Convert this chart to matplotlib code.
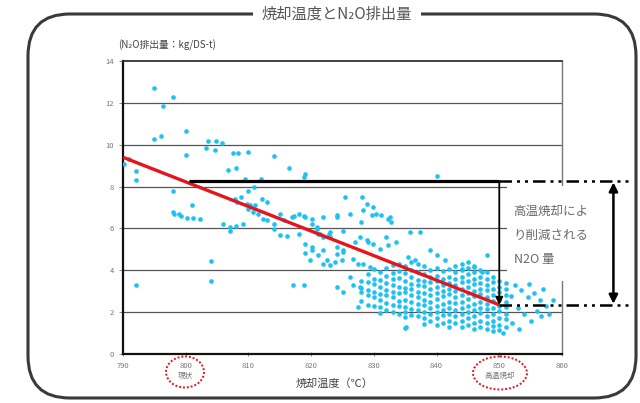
import matplotlib
matplotlib.use("Agg")
import matplotlib.pyplot as plt
from matplotlib.patches import FancyBboxPatch, Ellipse, Rectangle

plt.rcParams['font.family'] = ['Noto Sans CJK JP', 'DejaVu Sans']

# ---- data ----
title = "焼却温度とN₂O排出量"
ylabel = "(N₂O排出量：kg/DS-t)"
xlabel = "焼却温度（℃）"
x_ticks = [790, 800, 810, 820, 830, 840, 850, 860]
x_tick_labels = ["790", "800\n現状", "810", "820", "830", "840", "850\n高温焼却", "860"]
y_ticks = [0, 2, 4, 6, 8, 10, 12, 14]

# sparse measurements (temperature °C, N2O kg/DS-t)
sparse_temp = [790.1, 790.9, 792.1, 792.1, 792.1, 795.0, 796.4, 797.9, 795.0, 796.0,
               800.0, 800.0, 797.9, 797.9, 798.1, 798.9, 799.2, 800.2, 801.2, 802.2,
               801.0, 804.0, 804.0, 803.6, 804.8, 805.8, 803.3, 804.6, 807.5, 808.4,
               809.9, 806.7, 808.0, 814.0, 816.5, 818.8, 819.1, 809.5, 812.0, 810.9,
               809.9, 807.9, 808.8, 808.1, 809.7, 810.3, 811.1, 812.1, 812.9, 809.9,
               810.8, 811.6, 812.4, 812.9, 814.0, 815.0, 815.6, 814.0, 815.0, 816.1,
               816.9, 818.0, 818.8, 806.0, 807.1, 807.1, 808.0, 809.1, 818.0, 819.0,
               820.1, 820.1, 819.8, 821.1, 821.9, 823.0, 824.1, 824.1, 817.1, 818.9,
               820.1, 820.9, 821.1, 821.9, 821.9, 823.0, 823.0, 824.1, 840.0, 825.4,
               828.1, 828.9, 828.3, 829.9, 829.7, 830.4, 831.2, 832.3, 832.8, 832.6,
               824.1, 826.2, 827.9, 825.1, 835.8, 837.3, 829.1, 829.9, 831.0, 832.3,
               833.6, 832.0, 827.8, 824.1, 825.1, 839.0, 840.0, 848.0, 835.5, 836.6,
               841.4, 844.0, 845.9, 847.2, 823.8, 824.9, 826.7, 827.5, 828.3, 829.4,
               826.2, 825.1, 827.8, 826.7, 835.0, 850.6, 827.5, 835.2, 817.2, 819.0,
               820.1, 821.0, 821.4, 822.9, 819.0, 821.9, 825.1, 827.0, 828.9, 822.5,
               852.5, 853.5, 854.5, 855.5, 856.5, 857.5, 853.0, 854.0, 855.0, 856.6,
               858.0, 852.0, 853.1, 857.0, 858.5, 851.8, 854.8, 856.0]
sparse_n2o = [9.10, 9.30, 8.76, 8.32, 3.32, 12.70, 11.86, 12.30, 10.27, 10.40,
              10.67, 9.52, 7.81, 6.78, 6.67, 6.71, 6.59, 6.51, 6.51, 6.46,
              7.10, 4.44, 3.48, 10.19, 10.19, 10.08, 9.84, 9.76, 9.59, 9.60,
              9.67, 8.79, 8.89, 9.44, 8.89, 8.44, 8.60, 8.36, 8.36, 7.97,
              7.81, 7.41, 7.49, 7.25, 7.17, 7.10, 7.10, 7.41, 7.25, 6.94,
              6.78, 6.70, 6.46, 6.38, 6.22, 6.70, 6.38, 5.98, 5.67, 5.62,
              6.54, 6.67, 6.57, 6.22, 6.06, 5.87, 6.10, 6.22, 5.75, 5.27,
              5.11, 4.95, 4.48, 4.71, 4.32, 4.24, 4.79, 3.20, 3.32, 3.32,
              6.19, 6.06, 5.75, 6.54, 5.59, 5.83, 5.59, 6.54, 8.49, 7.52,
              7.52, 7.17, 6.86, 7.02, 6.62, 6.70, 6.62, 6.46, 6.30, 6.54,
              6.62, 6.70, 6.30, 5.90, 5.83, 5.83, 5.35, 5.27, 5.03, 5.19,
              5.35, 5.59, 5.59, 5.11, 4.95, 4.95, 4.71, 4.71, 4.65, 4.48,
              4.48, 4.08, 4.16, 3.92, 4.40, 4.48, 4.56, 4.32, 4.32, 4.16,
              3.68, 2.97, 3.20, 3.30, 1.22, 0.98, 2.25, 1.30, 6.57, 4.84,
              6.46, 5.98, 5.75, 5.75, 6.54, 4.98, 4.87, 5.35, 5.43, 4.50,
              3.30, 3.05, 2.70, 2.90, 2.60, 2.30, 2.20, 1.90, 1.60, 1.80,
              1.90, 1.50, 1.20, 3.10, 2.60, 2.75, 3.35, 2.05]

# dense block of measurements between 828 and 851 °C
dense_temp = ([828] * 4 + [829] * 5 + [830] * 6 + [831] * 7 + [832] * 7 + [833] * 8 +
              [834] * 8 + [835] * 9 + [836] * 9 + [837] * 9 + [838] * 10 + [839] * 9 +
              [840] * 10 + [841] * 9 + [842] * 10 + [843] * 10 + [844] * 11 + [845] * 11 +
              [846] * 11 + [847] * 10 + [848] * 10 + [849] * 10 + [850] * 9 + [851] * 8)
dense_n2o = [3.5, 3.15, 2.95, 2.55,
             3.8, 3.45, 3.05, 2.8, 2.35,
             4.05, 3.6, 3.35, 2.95, 2.7, 2.3,
             3.9, 3.55, 3.2, 2.85, 2.6, 2.25, 1.95,
             4.1, 3.75, 3.4, 3.05, 2.8, 2.45, 2.1,
             4.25, 3.85, 3.6, 3.3, 2.95, 2.7, 2.35, 2.0,
             4.3, 3.95, 3.65, 3.2, 2.9, 2.55, 2.3, 1.9,
             4.2, 3.85, 3.5, 3.15, 2.95, 2.6, 2.25, 2.0, 1.75,
             4.4, 4.0, 3.7, 3.35, 3.1, 2.8, 2.5, 2.15, 1.85,
             4.3, 3.9, 3.55, 3.3, 2.95, 2.7, 2.4, 2.1, 1.8,
             4.2, 3.8, 3.5, 3.25, 2.9, 2.6, 2.35, 2.0, 1.7, 1.45,
             4.0, 3.7, 3.45, 3.1, 2.8, 2.5, 2.2, 1.9, 1.6,
             4.1, 3.75, 3.5, 3.2, 2.9, 2.65, 2.3, 2.0, 1.7, 1.4,
             3.95, 3.6, 3.3, 3.0, 2.75, 2.4, 2.1, 1.85, 1.5,
             4.05, 3.7, 3.4, 3.1, 2.85, 2.5, 2.2, 1.9, 1.6, 1.3,
             4.2, 3.9, 3.6, 3.3, 3.0, 2.7, 2.45, 2.1, 1.8, 1.5,
             4.3, 4.0, 3.7, 3.45, 3.1, 2.8, 2.5, 2.2, 1.9, 1.6, 1.3,
             4.4, 4.1, 3.8, 3.5, 3.2, 2.9, 2.65, 2.3, 2.0, 1.7, 1.4,
             4.2, 3.9, 3.6, 3.35, 3.0, 2.75, 2.4, 2.1, 1.8, 1.5, 1.2,
             4.0, 3.7, 3.4, 3.1, 2.85, 2.5, 2.2, 1.95, 1.6, 1.3,
             3.9, 3.6, 3.3, 3.05, 2.7, 2.4, 2.15, 1.8, 1.5, 1.2,
             3.7, 3.45, 3.1, 2.8, 2.55, 2.2, 1.9, 1.6, 1.35, 1.1,
             3.5, 3.2, 2.95, 2.6, 2.3, 2.05, 1.7, 1.4, 1.15,
             3.4, 3.1, 2.8, 2.5, 2.25, 1.9, 1.65, 1.3]

# regression line end points
reg_temp = [790, 850]
reg_n2o = [9.4, 2.35]

# reduction levels
level_current = 8.25   # at 800 °C
level_high = 2.35      # at 850 °C
bracket_start = 800.6

# ---- figure ----
fig = plt.figure(figsize=(6.4, 4.03), dpi=100)

# decorative rounded frame (pixel coordinate overlay)
bg = fig.add_axes([0, 0, 1, 1], zorder=0)
bg.set_xlim(0, 640)
bg.set_ylim(403, 0)
bg.axis('off')
frame = FancyBboxPatch((28, 14), 608, 384, boxstyle="round,pad=0,rounding_size=42",
                       fill=False, ec='#3a3a3a', lw=2.2)
bg.add_patch(frame)

ax = fig.add_axes([123 / 640, 1 - 354 / 403, (562 - 123) / 640, (354 - 61) / 403], zorder=1)
ax.set_xlim(790, 860)
ax.set_ylim(0, 14)
ax.set_facecolor('white')

ax.set_yticks(y_ticks)
ax.set_yticklabels([str(v) for v in y_ticks])
ax.set_xticks(x_ticks)
ax.set_xticklabels(x_tick_labels, linespacing=1.3)
ax.tick_params(axis='both', labelsize=5.5, labelcolor='#777777', color='#777777',
               length=3, width=0.6)
ax.tick_params(axis='x', direction='inout', pad=4)

for v in y_ticks[1:-1]:
    ax.axhline(v, color='#555555', lw=0.9, zorder=1)

for s in ['left', 'bottom']:
    ax.spines[s].set_linewidth(1.6)
    ax.spines[s].set_color('#111111')
ax.spines['top'].set_linewidth(1.3)
ax.spines['top'].set_color('#333333')
ax.spines['right'].set_linewidth(1.0)
ax.spines['right'].set_color('#777777')

color_pts = '#1CC2F2'
ax.scatter(sparse_temp, sparse_n2o, s=11, color=color_pts, lw=0, zorder=3)
ax.scatter(dense_temp, dense_n2o, s=11, color=color_pts, lw=0, zorder=3)

ax.plot(reg_temp, reg_n2o, color='#E8141C', lw=2.4, zorder=4, solid_capstyle='butt')

# bracket: thick horizontal and arrow down
ax.plot([bracket_start, 850], [level_current, level_current], color='black', lw=2.3,
        zorder=5, solid_capstyle='butt')
ax.annotate('', xy=(850, level_high), xytext=(850, level_current),
            arrowprops=dict(arrowstyle='-|>', color='black', lw=1.3,
                            mutation_scale=11, shrinkA=0, shrinkB=0), zorder=6)

# white box covering the right part for the annotation text
ax.add_patch(Rectangle((851.2, 3.5), 20, 4.55, facecolor='white', edgecolor='none',
                       zorder=4, clip_on=False))

# dash-dot level lines extending beyond the axes
dd = (0, (5, 2, 1.2, 2, 1.2, 2))
ax.plot([850, 870.5], [level_current, level_current], color='black', lw=1.8,
        linestyle=dd, zorder=6, clip_on=False)
ax.plot([850, 870.5], [level_high, level_high], color='black', lw=1.8,
        linestyle=dd, zorder=6, clip_on=False)
ax.annotate('', xy=(868.2, level_high + 0.05), xytext=(868.2, level_current - 0.05),
            arrowprops=dict(arrowstyle='<|-|>', color='black', lw=1.8,
                            mutation_scale=13, shrinkA=0, shrinkB=0),
            annotation_clip=False, zorder=7)

ax.text(852.3, 7.15, "高温焼却によ\nり削減される\nN2O 量", fontsize=9, color='#6a6a6a',
        ha='left', va='top', linespacing=2.15, zorder=7, clip_on=False)

# red dotted ellipses around the key tick labels
bg.add_patch(Ellipse((185, 372), 38, 31, fill=False, ec='#E8141C', lw=1.4,
                     linestyle=(0, (1, 1))))
bg.add_patch(Ellipse((500, 373), 54, 33, fill=False, ec='#E8141C', lw=1.4,
                     linestyle=(0, (1, 1))))

# labels and title
bg.text(335, 384, xlabel, fontsize=8, color='#444444', ha='center', va='center')
bg.text(118, 45, ylabel, fontsize=7, color='#444444', ha='left', va='center')
bg.text(337, 14, title, fontsize=11, color='#555555', ha='center', va='center',
        bbox=dict(facecolor='white', edgecolor='none', pad=6))

fig.savefig('out.png', dpi=100)
